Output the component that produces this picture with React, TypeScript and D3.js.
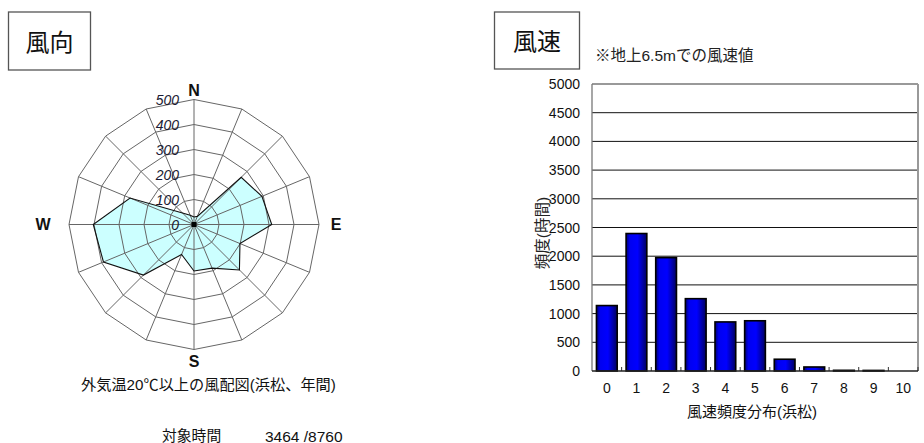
import React from "react";
import * as d3 from "d3";

const directions = ["N","NNE","NE","ENE","E","ESE","SE","SSE","S","SSW","SW","WSW","W","WNW","NW","NNW"];
const directionHours = [30, 35, 267, 294, 311, 199, 257, 189, 186, 130, 286, 392, 403, 277, 65, 40];
const radarTicks = [0, 100, 200, 300, 400, 500];
const compassLabels = [
  { label: "N", angle: 0, dist: 134 },
  { label: "E", angle: 90, dist: 142 },
  { label: "S", angle: 180, dist: 137 },
  { label: "W", angle: 270, dist: 151 },
];

const speedCategories = ["0","1","2","3","4","5","6","7","8","9","10"];
const speedHours = [1140, 2395, 1975, 1260, 855, 875, 205, 70, 12, 10, 0];
const speedTicks = [0, 500, 1000, 1500, 2000, 2500, 3000, 3500, 4000, 4500, 5000];

const JP = "'Liberation Sans', Arial, 'Noto Sans CJK JP', sans-serif";

export default function App() {
  // radar
  const cx = 194, cy = 224.5, R = 125;
  const r = d3.scaleLinear().domain([0, 500]).range([0, R]);
  const ang = (i: number) => (i * 2 * Math.PI) / directions.length;
  const pt = (i: number, v: number): [number, number] => [
    r(v) * Math.sin(ang(i)),
    -r(v) * Math.cos(ang(i)),
  ];
  const radial = d3
    .lineRadial<number>()
    .angle((_, i) => ang(i))
    .radius((d) => r(d))
    .curve(d3.curveLinearClosed);
  const ringPath = (v: number) => radial(directions.map(() => v)) as string;
  const dataPath = radial(directionHours) as string;

  // bars
  const x = d3.scaleBand<string>().domain(speedCategories).range([592, 918]).paddingInner(0.3).paddingOuter(0.15);
  const y = d3.scaleLinear().domain([0, 5000]).range([371, 84]);
  const step = x.step();

  return (
    <div style={{ position: "absolute", left: 0, top: 0 }}>
      <svg width={924} height={443} style={{ display: "block", background: "#fff" }}>
        <defs>
          <linearGradient id="barGrad" x1="0" x2="1" y1="0" y2="0">
            <stop offset="0%" stopColor="#000070" />
            <stop offset="18%" stopColor="#0000f0" />
            <stop offset="55%" stopColor="#0000ff" />
            <stop offset="100%" stopColor="#000060" />
          </linearGradient>
        </defs>

        {/* title boxes */}
        <rect x={8.5} y={12} width={82} height={58} fill="#fff" stroke="#555" strokeWidth={1.3} />
        <text x={49.5} y={42} fontFamily={JP} fontSize={24} textAnchor="middle" dominantBaseline="central" fill="#111">風向</text>
        <rect x={494.5} y={12} width={85} height={57} fill="#fff" stroke="#555" strokeWidth={1.3} />
        <text x={537} y={41.5} fontFamily={JP} fontSize={24} textAnchor="middle" dominantBaseline="central" fill="#111">風速</text>
        <text x={595} y={55} fontFamily={JP} fontSize={15.5} dominantBaseline="central" fill="#222">※地上6.5mでの風速値</text>

        {/* radar */}
        <g transform={`translate(${cx},${cy})`}>
          <path d={dataPath} fill="#ccffff" stroke="none" />
          {radarTicks.filter((t) => t > 0).map((t) => (
            <path key={t} d={ringPath(t)} fill="none" stroke="#666" strokeWidth={1} />
          ))}
          {directions.map((dname, i) => {
            const [px, py] = pt(i, 500);
            return <line key={dname} x1={0} y1={0} x2={px} y2={py} stroke="#666" strokeWidth={1} />;
          })}
          <path d={dataPath} fill="none" stroke="#111" strokeWidth={1.1} />
          <rect x={-2.5} y={-2.5} width={5} height={5} fill="#000" />
        </g>
        {radarTicks.map((t) => (
          <text key={t} x={cx - 15} y={cy - r(t)} fontFamily={JP} fontSize={14} fontStyle="italic" textAnchor="end" dominantBaseline="central" fill="#1a1a33">{t}</text>
        ))}
        {compassLabels.map((c) => {
          const a = (c.angle * Math.PI) / 180;
          return (
            <text key={c.label} x={cx + c.dist * Math.sin(a)} y={cy - c.dist * Math.cos(a)} fontFamily={JP} fontSize={16} fontWeight="bold" textAnchor="middle" dominantBaseline="central" fill="#111">{c.label}</text>
          );
        })}
        <text x={81} y={384} fontFamily={JP} fontSize={15.2} dominantBaseline="central" fill="#111">外気温20℃以上の風配図(浜松、年間)</text>
        <text x={162} y={436} fontFamily={JP} fontSize={14.8} dominantBaseline="central" fill="#111">対象時間</text>
        <text x={265} y={436} fontFamily={JP} fontSize={15.5} dominantBaseline="central" fill="#111">3464 /8760</text>

        {/* bar chart */}
        {speedTicks.filter((t) => t > 0 && t < 5000).map((t) => (
          <line key={t} x1={592} x2={918} y1={y(t)} y2={y(t)} stroke="#111" strokeWidth={1} />
        ))}
        <line x1={592} x2={918} y1={y(5000)} y2={y(5000)} stroke="#999" strokeWidth={2} />
        <line x1={918} x2={918} y1={y(5000)} y2={y(0)} stroke="#999" strokeWidth={2} />
        <line x1={592} x2={592} y1={y(5000)} y2={y(0)} stroke="#777" strokeWidth={1.3} />
        {speedCategories.map((c, i) => (
          <line key={"tk" + c} x1={592 + step * (i + 1)} x2={592 + step * (i + 1)} y1={y(0)} y2={y(0) - 4} stroke="#333" strokeWidth={1} />
        ))}
        {speedCategories.map((c, i) => {
          const v = speedHours[i];
          const h = y(0) - y(v);
          return h > 0.5 ? (
            <rect key={"b" + c} x={x(c)} y={y(v)} width={x.bandwidth()} height={h} fill="url(#barGrad)" stroke="#000" strokeWidth={1.6} />
          ) : null;
        })}
        <line x1={592} x2={918} y1={y(0)} y2={y(0)} stroke="#222" strokeWidth={1.3} />
        {speedTicks.map((t) => (
          <text key={"yl" + t} x={580} y={y(t)} fontFamily={JP} fontSize={14} textAnchor="end" dominantBaseline="central" fill="#111">{t}</text>
        ))}
        {speedCategories.map((c) => (
          <text key={"xl" + c} x={(x(c) as number) + x.bandwidth() / 2} y={388} fontFamily={JP} fontSize={14} textAnchor="middle" dominantBaseline="central" fill="#111">{c}</text>
        ))}
        <text x={752} y={411} fontFamily={JP} fontSize={15} textAnchor="middle" dominantBaseline="central" fill="#111">風速頻度分布(浜松)</text>
        <text transform="translate(542.5,233) rotate(-90)" fontFamily={JP} fontSize={15.5} textAnchor="middle" dominantBaseline="central" fill="#222">頻度(時間)</text>
      </svg>
    </div>
  );
}
